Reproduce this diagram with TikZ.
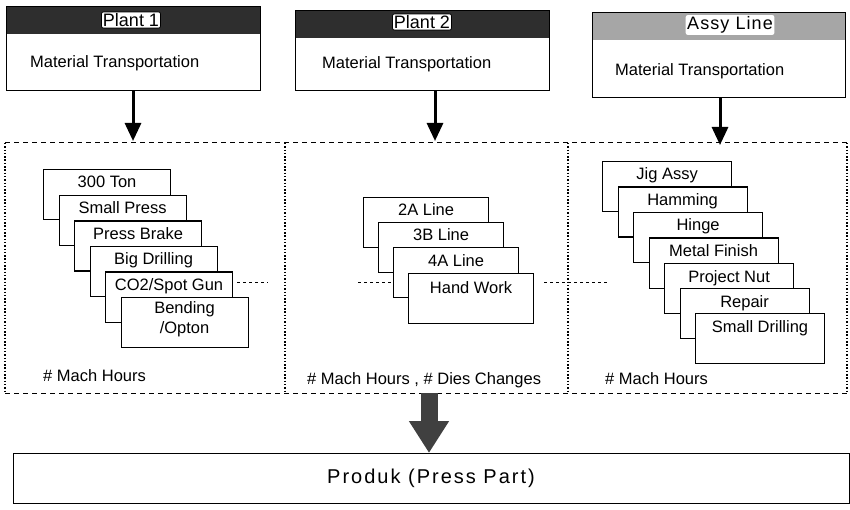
\documentclass[tikz,border=0pt]{standalone}
\usepackage{fontspec}
\setmainfont{Liberation Sans}
\newfontfamily\widesans[LetterSpace=10]{Liberation Sans}
\newfontfamily\spacedsans[LetterSpace=6]{Liberation Sans}
\usetikzlibrary{arrows.meta,calc}

\begin{document}
\begin{tikzpicture}[x=1pt,y=-1pt,
  every node/.style={inner sep=0pt},
  txt/.style={font=\fontsize{16.5}{19}\selectfont},
  topbox/.style={draw, line width=1.2pt, anchor=north west,
    path picture={\fill[#1] (path picture bounding box.north west)
      rectangle ([yshift=-27pt]path picture bounding box.north east);}},
  hdrlabel/.style={fill=white, draw=black, line width=0.8pt, rounded corners=2pt,
    inner sep=1.5pt, font=\fontsize{18}{20}\selectfont},
  stackbox/.style={draw, fill=white, line width=1.1pt, minimum width=127pt,
    minimum height=50pt, anchor=north west},
  boxtext/.style={txt, anchor=base},
  flow/.style={line width=3pt, -{Triangle[width=16pt,length=18pt]}},
  hdash/.style={line width=1pt, dash pattern=on 5pt off 4pt},
  vdot/.style={line width=1.2pt, dash pattern=on 1.5pt off 1.8pt},
  link/.style={line width=1pt, dash pattern=on 3pt off 3pt},
  bigflow/.style={line width=17pt, draw=black!75,
    -{Triangle[width=38pt,length=32pt]}}
]
\useasboundingbox (0,0) rectangle (850,510);

% ---- source blocks ----
\node[topbox=black!82, minimum width=254pt, minimum height=84pt] (p1) at (6,6) {};
\node[hdrlabel] (p1h) at (131,20) {Plant 1};
\node[txt, anchor=base west] (p1t) at (30,68) {Material Transportation};

\node[topbox=black!82, minimum width=254pt, minimum height=80pt] (p2) at (295,10) {};
\node[hdrlabel] (p2h) at (422,22) {Plant 2};
\node[txt, anchor=base west] (p2t) at (322,69) {Material Transportation};

\node[topbox=black!35, minimum width=253pt, minimum height=85pt] (p3) at (592,12) {};
\node[hdrlabel, draw=none, font=\spacedsans\fontsize{18}{20}\selectfont] (p3h) at (730,25) {Assy Line};
\node[txt, anchor=base west] (p3t) at (615,76) {Material Transportation};

% ---- process frame ----
\coordinate (fNW) at (5,143);
\coordinate (fNE) at (847,143);
\coordinate (fSW) at (5,393);
\coordinate (fSE) at (847,393);
\coordinate (d1N) at (285,143);
\coordinate (d1S) at (285,393);
\coordinate (d2N) at (568,143);
\coordinate (d2S) at (568,393);
\draw[hdash] (fNW) -- (fNE);
\draw[hdash] (fSW) -- (fSE);
\draw[vdot] (fNW) -- (fSW);
\draw[vdot] (fNE) -- (fSE);
\draw[vdot] (d1N) -- (d1S);
\draw[vdot] (d2N) -- (d2S);

% inputs into the frame
\coordinate (in1) at (133,141);
\coordinate (in2) at (435,141);
\coordinate (in3) at (720,145);
\draw[flow] (p1.south -| in1) -- (in1);
\draw[flow] (p2.south -| in2) -- (in2);
\draw[flow] (p3.south -| in3) -- (in3);

% ---- Plant 1 machines ----
\node[stackbox] (a1) at (43,169) {};
\node[boxtext] at ($(a1.north)+(0,19)$) {300 Ton};
\node[stackbox] (a2) at (58.5,195) {};
\node[boxtext] at ($(a2.north)+(0,19)$) {Small Press};
\node[stackbox] (a3) at (74,220.5) {};
\node[boxtext] at ($(a3.north)+(0,19)$) {Press Brake};
\node[stackbox] (a4) at (89.5,246) {};
\node[boxtext] at ($(a4.north)+(0,19)$) {Big Drilling};
\node[stackbox] (a5) at (105,271.5) {};
\node[boxtext] at ($(a5.north)+(0,19)$) {CO2/Spot Gun};
\node[stackbox] (a6) at (120.5,297) {};
\node[boxtext] at ($(a6.north)+(0,16)$) {Bending};
\node[boxtext] at ($(a6.north)+(0,36)$) {/Opton};
\node[txt, anchor=base west] (h1) at (43,381) {\# Mach Hours};

% ---- Plant 2 lines ----
\node[stackbox, minimum width=125pt] (b1) at (363,197) {};
\node[boxtext] at ($(b1.north)+(0,19)$) {2A Line};
\node[stackbox, minimum width=125pt] (b2) at (378,222) {};
\node[boxtext] at ($(b2.north)+(0,19)$) {3B Line};
\node[stackbox, minimum width=125pt] (b3) at (393,247) {};
\node[boxtext] at ($(b3.north)+(0,19)$) {4A Line};
\node[stackbox, minimum width=125pt] (b4) at (408,273) {};
\node[boxtext] at ($(b4.north)+(0,20)$) {Hand Work};
\node[txt, anchor=base west] (h2) at (307,384) {\# Mach Hours , \# Dies Changes};

% ---- Assy Line stations ----
\node[stackbox, minimum width=129pt] (c1) at (602,161) {};
\node[boxtext] at ($(c1.north)+(0,19)$) {Jig Assy};
\node[stackbox, minimum width=129pt] (c2) at (617.5,186.5) {};
\node[boxtext] at ($(c2.north)+(0,19)$) {Hamming};
\node[stackbox, minimum width=129pt] (c3) at (633,212) {};
\node[boxtext] at ($(c3.north)+(0,19)$) {Hinge};
\node[stackbox, minimum width=129pt] (c4) at (648.5,237.5) {};
\node[boxtext] at ($(c4.north)+(0,19)$) {Metal Finish};
\node[stackbox, minimum width=129pt] (c5) at (664,263) {};
\node[boxtext] at ($(c5.north)+(0,19)$) {Project Nut};
\node[stackbox, minimum width=129pt] (c6) at (679.5,288) {};
\node[boxtext] at ($(c6.north)+(0,19)$) {Repair};
\node[stackbox, minimum width=129pt] (c7) at (695,313) {};
\node[boxtext] at ($(c7.north)+(0,19)$) {Small Drilling};
\node[txt, anchor=base west] (h3) at (605,384) {\# Mach Hours};

% ---- dashed links between the groups ----
\coordinate (k1) at (268,282);
\coordinate (k2) at (358,282);
\coordinate (k3) at (607,282);
\draw[link] ($(a5.north east)+(4,10.5)$) -- (k1);
\draw[link] (k2) -- (b3.west |- k2);
\draw[link] ($(b4.north east)+(10,9)$) -- (k3);

% ---- output ----
\node[draw, line width=1.2pt, minimum width=836pt, minimum height=50pt,
      anchor=north west] (prod) at (13,453) {};
\node[font=\widesans\fontsize{20}{23}\selectfont] (prodt) at (431,478) {Produk (Press Part)};
\coordinate (fOut) at (429,393);
\draw[bigflow] (fOut) -- (fOut |- prod.north);
\end{tikzpicture}
\end{document}
